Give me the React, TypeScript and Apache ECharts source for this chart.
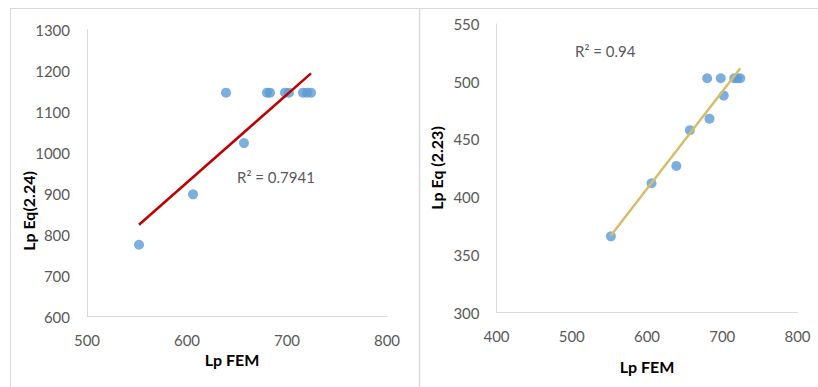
import React, { useEffect, useRef } from "react";
import * as echarts from "echarts";

const lpFem: number[] = [552, 606, 639, 657, 680, 683, 698, 702, 716, 720, 724];
const lpEq224: number[] = [775, 898, 1146, 1023, 1146, 1146, 1146, 1146, 1146, 1146, 1146];
const lpEq223: number[] = [366, 412, 427, 458, 503, 468, 503, 488, 503, 503, 503];
const r2Left = "R² = 0.7941";
const r2Right = "R² = 0.94";
const xTitle = "Lp FEM";
const yTitleLeft = "Lp Eq(2.24)";
const yTitleRight = "Lp Eq (2.23)";

const FONT = "Lato, 'Open Sans', sans-serif";
const GRAY = "#595959";
const LINE = "#d9d9d9";

function fitLine(xs: number[], ys: number[]): number[][] {
  const n = xs.length;
  const mx = xs.reduce((a, b) => a + b, 0) / n;
  const my = ys.reduce((a, b) => a + b, 0) / n;
  let sxy = 0;
  let sxx = 0;
  for (let i = 0; i < n; i++) {
    sxy += (xs[i] - mx) * (ys[i] - my);
    sxx += (xs[i] - mx) * (xs[i] - mx);
  }
  const b = sxy / sxx;
  const a = my - b * mx;
  const x0 = Math.min(...xs);
  const x1 = Math.max(...xs);
  return [
    [x0, a + b * x0],
    [x1, a + b * x1],
  ];
}

export default function App() {
  const ref = useRef<HTMLDivElement>(null);
  useEffect(() => {
    if (!ref.current) return;
    const chart = echarts.init(ref.current, null, { renderer: "svg" });
    const axisLabel = {
      color: GRAY,
      fontFamily: FONT,
      fontSize: 15,
      formatter: (v: number) => String(v),
    };
    const xAxisBase = {
      type: "value" as const,
      max: 800,
      interval: 100,
      axisLine: { show: true, lineStyle: { color: LINE, width: 1 } },
      axisTick: { show: false },
      splitLine: { show: false },
      axisLabel: { ...axisLabel, margin: 16 },
    };
    const yAxisBase = {
      type: "value" as const,
      axisLine: { show: true, lineStyle: { color: LINE, width: 1 } },
      axisTick: { show: false },
      splitLine: { show: false },
      axisLabel: { ...axisLabel, margin: 17 },
    };
    const pts = (ys: number[]) => lpFem.map((x, i) => [x, ys[i]]);
    chart.setOption({
      animation: false,
      backgroundColor: "#ffffff",
      grid: [
        { left: 87, top: 29.5, width: 300, height: 287 },
        { left: 496.5, top: 24, width: 301, height: 288.5 },
      ],
      xAxis: [
        { ...xAxisBase, gridIndex: 0, min: 500 },
        { ...xAxisBase, gridIndex: 1, min: 400 },
      ],
      yAxis: [
        { ...yAxisBase, gridIndex: 0, min: 600, max: 1300, interval: 100 },
        { ...yAxisBase, gridIndex: 1, min: 300, max: 550, interval: 50 },
      ],
      series: [
        {
          type: "scatter",
          xAxisIndex: 0,
          yAxisIndex: 0,
          data: pts(lpEq224),
          symbolSize: 10,
          itemStyle: { color: "#5b9bd5" },
          z: 2,
        },
        {
          type: "line",
          xAxisIndex: 0,
          yAxisIndex: 0,
          data: fitLine(lpFem, lpEq224),
          showSymbol: false,
          lineStyle: { color: "#c00000", width: 2.5 },
          z: 3,
        },
        {
          type: "scatter",
          xAxisIndex: 1,
          yAxisIndex: 1,
          data: pts(lpEq223),
          symbolSize: 10,
          itemStyle: { color: "#5b9bd5" },
          z: 2,
        },
        {
          type: "line",
          xAxisIndex: 1,
          yAxisIndex: 1,
          data: fitLine(lpFem, lpEq223),
          showSymbol: false,
          lineStyle: { color: "#d6bd6c", width: 2.5 },
          z: 3,
        },
      ],
      graphic: [
        { type: "line", shape: { x1: 10, y1: 8.5, x2: 818, y2: 8.5 }, style: { stroke: LINE, lineWidth: 1 } },
        { type: "line", shape: { x1: 10.5, y1: 8.5, x2: 10.5, y2: 387 }, style: { stroke: LINE, lineWidth: 1 } },
        { type: "line", shape: { x1: 419.5, y1: 8.5, x2: 419.5, y2: 387 }, style: { stroke: LINE, lineWidth: 1.5 } },
        {
          type: "text",
          x: 232,
          y: 359,
          style: { text: xTitle, font: `bold 16px ${FONT}`, fill: "#000", align: "center", verticalAlign: "middle" },
        },
        {
          type: "text",
          x: 647,
          y: 366,
          style: { text: xTitle, font: `bold 16px ${FONT}`, fill: "#000", align: "center", verticalAlign: "middle" },
        },
        {
          type: "text",
          x: 28,
          y: 211,
          rotation: Math.PI / 2,
          style: { text: yTitleLeft, font: `bold 16px ${FONT}`, fill: "#000", align: "center", verticalAlign: "middle" },
        },
        {
          type: "text",
          x: 436,
          y: 168,
          rotation: Math.PI / 2,
          style: { text: yTitleRight, font: `bold 16px ${FONT}`, fill: "#000", align: "center", verticalAlign: "middle" },
        },
        {
          type: "text",
          x: 237,
          y: 177,
          style: { text: r2Left, font: `15px ${FONT}`, fill: GRAY, align: "left", verticalAlign: "middle" },
        },
        {
          type: "text",
          x: 575,
          y: 51,
          style: { text: r2Right, font: `15px ${FONT}`, fill: GRAY, align: "left", verticalAlign: "middle" },
        },
      ],
    });
    return () => chart.dispose();
  }, []);
  return (
    <div
      ref={ref}
      style={{ position: "absolute", left: 0, top: 0, width: 818, height: 387 }}
    />
  );
}
